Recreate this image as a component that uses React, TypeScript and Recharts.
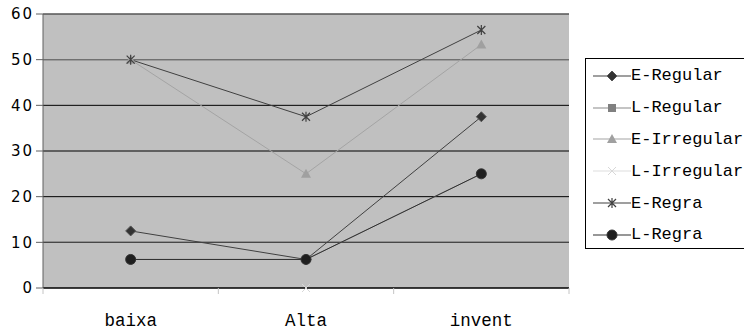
import React from 'react'
import { LineChart, Line, XAxis, YAxis, CartesianGrid, Legend, ReferenceLine } from 'recharts'

const categories = ['baixa', 'Alta', 'invent']
const eRegular = [12.5, 6.25, 37.5]
const lRegular = [6.25, 6.25, 25]
const eIrregular = [50, 25, 53.3]
const lIrregular = [null, 0, null]
const eRegra = [50, 37.5, 56.5]
const lRegra = [6.25, 6.25, 25]
const yTicks = [0, 10, 20, 30, 40, 50, 60]

type Marker = 'diamond' | 'square' | 'triangle' | 'x' | 'star' | 'blob'

const series: { key: string; name: string; values: (number | null)[]; color: string; marker: Marker }[] = [
  { key: 'eRegular', name: 'E-Regular', values: eRegular, color: '#404040', marker: 'diamond' },
  { key: 'lRegular', name: 'L-Regular', values: lRegular, color: '#8a8a8a', marker: 'square' },
  { key: 'eIrregular', name: 'E-Irregular', values: eIrregular, color: '#a4a4a4', marker: 'triangle' },
  { key: 'lIrregular', name: 'L-Irregular', values: lIrregular, color: '#dedede', marker: 'x' },
  { key: 'eRegra', name: 'E-Regra', values: eRegra, color: '#404040', marker: 'star' },
  { key: 'lRegra', name: 'L-Regra', values: lRegra, color: '#303030', marker: 'blob' },
]

const rows = categories.map((cat, i) => {
  const r: Record<string, string | number | null> = { cat }
  series.forEach((s) => (r[s.key] = s.values[i]))
  return r
})

const TICK_GAP = 26

function drawMarker(type: Marker, cx: number, cy: number, color: string) {
  switch (type) {
    case 'diamond':
      return <path d={`M${cx},${cy - 5}L${cx + 5},${cy}L${cx},${cy + 5}L${cx - 5},${cy}Z`} fill="#333" stroke="#555" />
    case 'square':
      return <rect x={cx - 4} y={cy - 4} width={8} height={8} fill="#808080" />
    case 'triangle':
      return <path d={`M${cx},${cy - 5}L${cx + 5},${cy + 4}L${cx - 5},${cy + 4}Z`} fill="#a0a0a0" />
    case 'x':
      return <path d={`M${cx - 4},${cy - 4}L${cx + 4},${cy + 4}M${cx + 4},${cy - 4}L${cx - 4},${cy + 4}`} stroke="#d8d8d8" strokeWidth={1} fill="none" />
    case 'star':
      return (
        <path
          d={`M${cx - 4},${cy - 4}L${cx + 4},${cy + 4}M${cx + 4},${cy - 4}L${cx - 4},${cy + 4}M${cx},${cy - 5}L${cx},${cy + 5}`}
          stroke={color}
          strokeWidth={1.2}
          fill="none"
        />
      )
    case 'blob':
      return <circle cx={cx} cy={cy} r={5} fill="#1f1f1f" stroke="#333" />
  }
}

function makeDot(type: Marker, color: string) {
  return (props: any) => {
    const { cx, cy, index } = props
    if (cx == null || cy == null || props.value == null) return <g key={index} />
    return <g key={index}>{drawMarker(type, cx, cy, color)}</g>
  }
}

// category label in the middle of the band, tick marks on the band edges
function CatTick(props: any) {
  const { x, y, payload, index, visibleTicksCount } = props
  const half = payload.offset || 0
  const axisY = y - TICK_GAP
  return (
    <g>
      <line x1={x - half} y1={axisY} x2={x - half} y2={axisY + 6} stroke="#c4c4c4" />
      {index === visibleTicksCount - 1 && <line x1={x + half} y1={axisY} x2={x + half} y2={axisY + 6} stroke="#c4c4c4" />}
      <text x={x} y={y} dy="0.71em" textAnchor="middle" fill="#000" fontSize={17.5} fontFamily='"Liberation Mono", monospace'>
        {payload.value}
      </text>
    </g>
  )
}

function LegendBox() {
  return (
    <div
      style={{
        width: 200,
        height: 191,
        border: '1px solid #000',
        background: '#fff',
        boxSizing: 'border-box',
        paddingTop: 1,
      }}
    >
      {series.map((s) => (
        <div key={s.key} style={{ display: 'flex', alignItems: 'center', height: 31.8 }}>
          <svg width={46} height={20} style={{ marginLeft: 6, flex: 'none' }}>
            <line x1={1} y1={10} x2={39} y2={10} stroke={s.color} strokeWidth={1.2} />
            {drawMarker(s.marker, 20, 10, s.color)}
          </svg>
          <span
            style={{
              fontFamily: '"Liberation Mono", "DejaVu Sans Mono", monospace',
              fontSize: 17,
              color: '#000',
              whiteSpace: 'nowrap',
              marginLeft: -7,
            }}
          >
            {s.name}
          </span>
        </div>
      ))}
    </div>
  )
}

export default function App() {
  return (
    <div style={{ position: 'absolute', left: 0, top: 0, width: 744, height: 331, overflow: 'hidden', background: '#fff' }}>
      <LineChart width={744} height={331} data={rows} margin={{ top: 14, right: 0, bottom: 0, left: 0 }}>
        <CartesianGrid vertical={false} fill="#c0c0c0" fillOpacity={1} stroke="#000" />
        <XAxis
          dataKey="cat"
          scale="band"
          interval={0}
          tickLine={false}
          tickSize={0}
          tickMargin={TICK_GAP}
          height={43}
          axisLine={{ stroke: '#000' }}
          tick={<CatTick />}
        />
        <YAxis
          domain={[0, 60]}
          ticks={yTicks}
          width={43}
          tickSize={7}
          tickMargin={2}
          axisLine={{ stroke: '#606060' }}
          tickLine={{ stroke: '#606060' }}
          tick={{ fill: '#000', fontSize: 15, fontFamily: '"DejaVu Sans", sans-serif', letterSpacing: 2 }}
        />
        <YAxis
          yAxisId="right"
          orientation="right"
          domain={[0, 60]}
          width={0}
          tick={false}
          tickLine={false}
          axisLine={{ stroke: '#808080' }}
        />
        <ReferenceLine y={60} stroke="#808080" />
        <ReferenceLine y={50} stroke="#808080" />
        <ReferenceLine y={10} stroke="#505050" />
        <Legend
          layout="vertical"
          align="right"
          verticalAlign="top"
          wrapperStyle={{ top: 58, left: 585, right: 'auto', width: 175 }}
          content={() => <LegendBox />}
        />
        {series.map((s) => (
          <Line
            key={s.key}
            dataKey={s.key}
            name={s.name}
            stroke={s.color}
            strokeWidth={1}
            dot={makeDot(s.marker, s.color)}
            activeDot={false}
            isAnimationActive={false}
          />
        ))}
      </LineChart>
    </div>
  )
}
